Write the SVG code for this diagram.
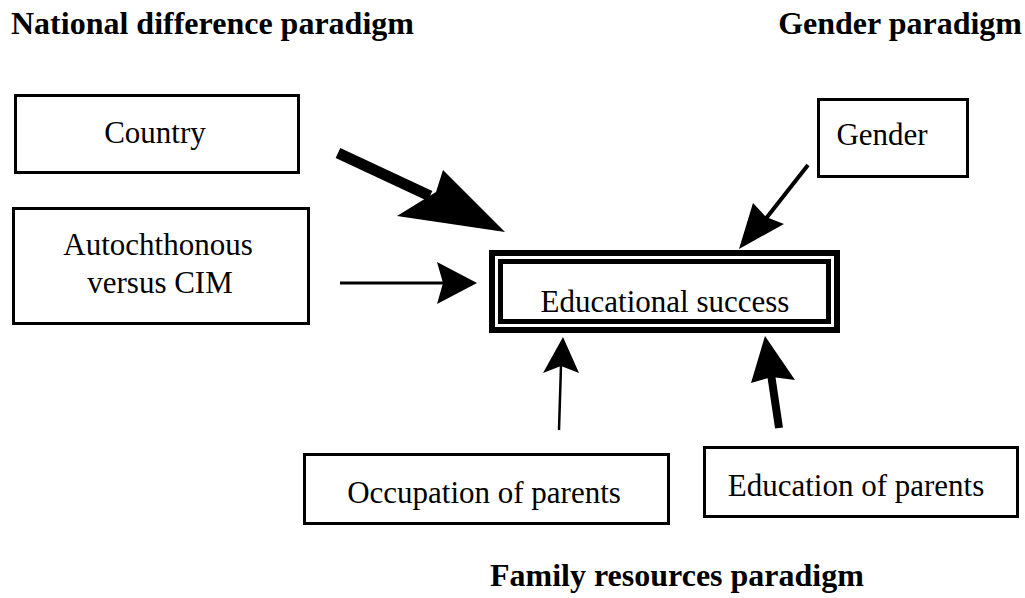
<svg xmlns="http://www.w3.org/2000/svg" width="1025" height="598" viewBox="0 0 1025 598">
  <style>
    .box { fill: #ffffff; stroke: #000000; stroke-width: 3; }
    .lbl { font-family: "Liberation Serif", "Times New Roman", serif; font-size: 31px; fill: #000000; text-anchor: middle; }
    .hdr { font-family: "Liberation Serif", "Times New Roman", serif; font-size: 32px; font-weight: bold; fill: #000000; }
    .shaft { stroke: #000000; fill: none; stroke-linecap: butt; }
    .head { fill: #000000; stroke: none; }
  </style>
  <rect width="1025" height="598" fill="#ffffff"/>

  <g id="headers">
    <text class="hdr" x="11" y="34">National difference paradigm</text>
    <text class="hdr" x="1022" y="34" text-anchor="end">Gender paradigm</text>
    <text class="hdr" x="490" y="586">Family resources paradigm</text>
  </g>

  <g id="node-country">
    <rect class="box" x="15.5" y="95.5" width="283" height="77"/>
    <text class="lbl" x="155" y="143">Country</text>
  </g>

  <g id="node-autochthonous">
    <rect class="box" x="13.5" y="208.5" width="295" height="115"/>
    <text class="lbl" x="158" y="255">Autochthonous</text>
    <text class="lbl" x="160" y="293">versus CIM</text>
  </g>

  <g id="node-gender">
    <rect class="box" x="818.5" y="99.5" width="149" height="77"/>
    <text class="lbl" x="882" y="145">Gender</text>
  </g>

  <g id="node-educational-success">
    <rect x="492" y="253" width="345" height="77" fill="#ffffff" stroke="#000000" stroke-width="6"/>
    <rect x="500.5" y="261.5" width="328" height="60" fill="none" stroke="#000000" stroke-width="5"/>
    <text class="lbl" x="665" y="312">Educational success</text>
  </g>

  <g id="node-occupation">
    <rect class="box" x="304.5" y="454.5" width="364" height="69"/>
    <text class="lbl" x="484" y="503">Occupation of parents</text>
  </g>

  <g id="node-education">
    <rect class="box" x="704.5" y="447.5" width="313" height="69"/>
    <text class="lbl" x="856" y="496">Education of parents</text>
  </g>

  <g id="connectors">
    <line class="shaft" x1="338" y1="153" x2="430" y2="196" stroke-width="11"/>
    <polygon class="head" points="505,232 443,170 436,192 397,216"/>

    <line class="shaft" x1="340" y1="283" x2="445" y2="283" stroke-width="3"/>
    <polygon class="head" points="477,283 437,262 443,283 437,304"/>

    <line class="shaft" x1="808" y1="165" x2="764" y2="221" stroke-width="4"/>
    <polygon class="head" points="739,249 753,203 766,217 784,224"/>

    <line class="shaft" x1="559" y1="430" x2="561" y2="365" stroke-width="2.5"/>
    <polygon class="head" points="563,337 543,373 561,366 579,373"/>

    <line class="shaft" x1="779" y1="428" x2="771" y2="374" stroke-width="8"/>
    <polygon class="head" points="765,336 751,383 772,377 795,380"/>
  </g>
</svg>
